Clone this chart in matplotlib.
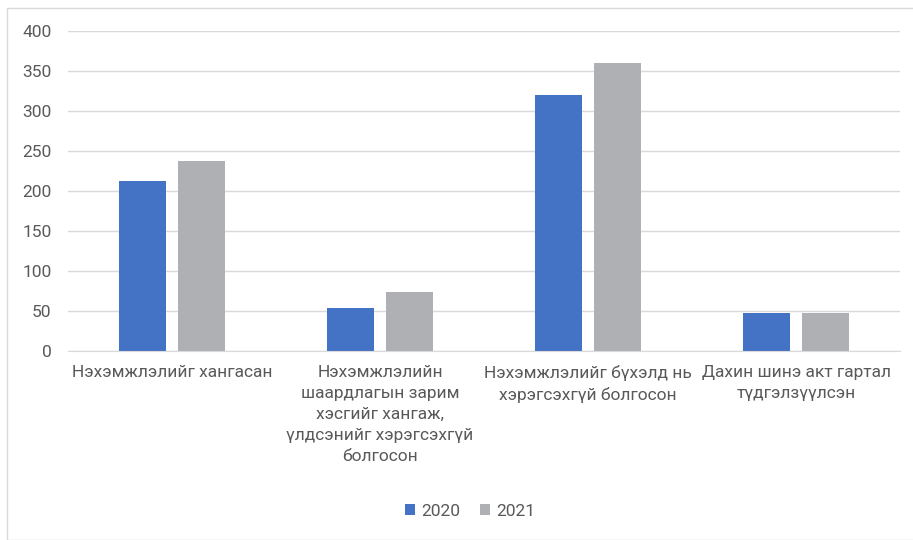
import numpy as np
import matplotlib
matplotlib.use('Agg')
import matplotlib.pyplot as plt
from matplotlib.patches import Rectangle

plt.rcParams['font.family'] = ['Roboto', 'DejaVu Sans']

categories = [
    'Нэхэмжлэлийг хангасан',
    'Нэхэмжлэлийн\nшаардлагын зарим\nхэсгийг хангаж,\nүлдсэнийг хэрэгсэхгүй\nболгосон',
    'Нэхэмжлэлийг бүхэлд нь\nхэрэгсэхгүй болгосон',
    'Дахин шинэ акт гартал\nтүдгэлзүүлсэн',
]
values_2020 = [212, 54, 320, 48]
values_2021 = [238, 74, 360, 47]
series_names = ['2020', '2021']
y_ticks = [0, 50, 100, 150, 200, 250, 300, 350, 400]

text_color = '#595959'
grid_color = '#D9D9D9'
colors = ['#4472C4', '#AFB0B3']

fig = plt.figure(figsize=(9.13, 5.40), dpi=100)
ax = fig.add_axes([68 / 913, 1 - 351 / 540, (900 - 68) / 913, 320 / 540])

x = np.arange(len(categories))
w = 0.225
off = 0.142
ax.bar(x - off, values_2020, w, color=colors[0], label=series_names[0], zorder=3)
ax.bar(x + off, values_2021, w, color=colors[1], label=series_names[1], zorder=3)

ax.set_xlim(-0.5, len(categories) - 0.5)
ax.set_ylim(0, 400)
ax.set_yticks(y_ticks)
ax.set_xticks(x)
ax.set_xticklabels(categories, linespacing=1.5)
ax.tick_params(axis='both', length=0, labelsize=12.5, labelcolor=text_color)
ax.tick_params(axis='x', pad=10)
ax.tick_params(axis='y', pad=12)
ax.grid(axis='y', color=grid_color, linewidth=1, zorder=0)
for s in ['top', 'right', 'left']:
    ax.spines[s].set_visible(False)
ax.spines['bottom'].set_color(grid_color)
ax.spines['bottom'].set_zorder(4)

leg = fig.legend(loc='center', bbox_to_anchor=(470 / 913, 1 - 511 / 540), ncol=2,
                 frameon=False, fontsize=12.5, handlelength=0.6, handleheight=0.6,
                 handletextpad=0.35, columnspacing=1.1)
for t in leg.get_texts():
    t.set_color(text_color)

fig.patches.append(Rectangle((7 / 913, 0), 1, 1 - 8 / 540, transform=fig.transFigure,
                             fill=False, edgecolor=grid_color, linewidth=1))

fig.savefig('out.png', dpi=100)
